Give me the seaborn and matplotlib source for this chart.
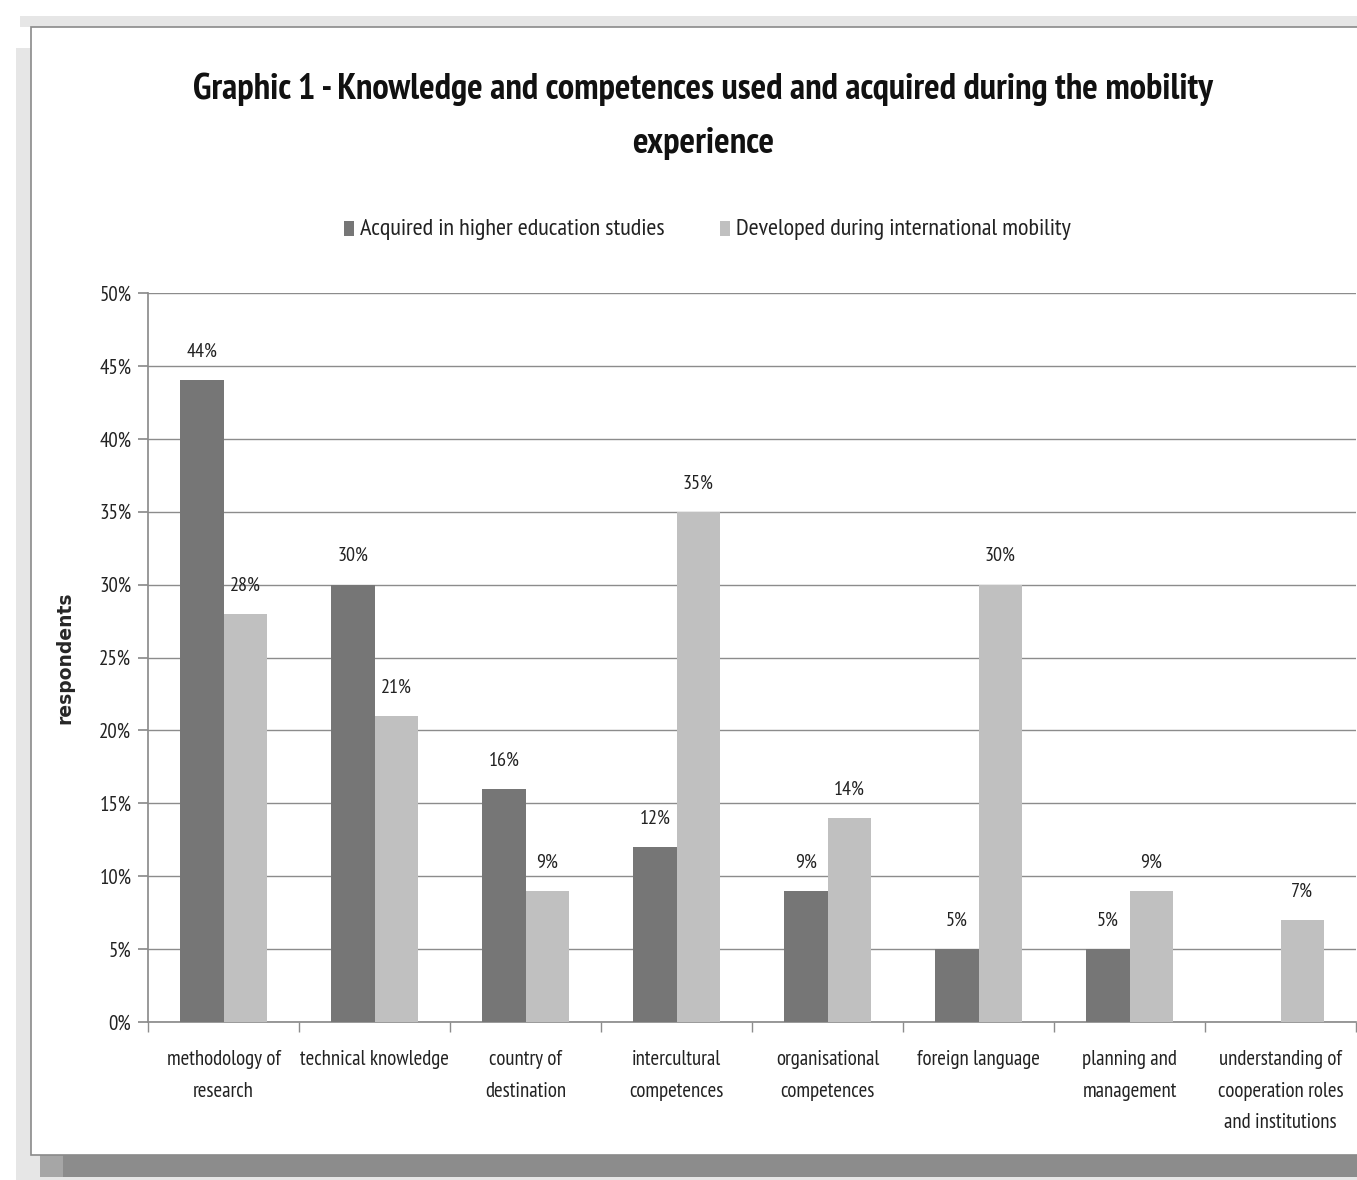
import numpy as np
import pandas as pd
import matplotlib
matplotlib.use("Agg")
import matplotlib.pyplot as plt
import seaborn as sns
from matplotlib import font_manager
from matplotlib.patches import Rectangle
from matplotlib.ticker import FixedLocator, PercentFormatter

categories = ["methodology of\nresearch", "technical knowledge", "country of\ndestination",
              "intercultural\ncompetences", "organisational\ncompetences", "foreign language",
              "planning and\nmanagement", "understanding of\ncooperation roles\nand institutions"]
acquired = [44, 30, 16, 12, 9, 5, 5, np.nan]
developed = [28, 21, 9, 35, 14, 30, 9, 7]
series_names = ["Acquired in higher education studies", "Developed during international mobility"]
yticks = [0, 5, 10, 15, 20, 25, 30, 35, 40, 45, 50]

sns.set_theme(style="white")
names = {f.name for f in font_manager.fontManager.ttflist}
narrow = "DejaVu Sans"
for cand in ["PT Sans Narrow", "Open Sans Condensed", "Roboto Condensed", "Archivo Narrow",
             "Asap Condensed", "Carlito"]:
    if cand in names:
        narrow = cand
        break
plt.rcParams["font.family"] = [narrow, "DejaVu Sans"]

df = pd.DataFrame({
    "category": categories * 2,
    "value": acquired + developed,
    "series": [series_names[0]] * len(categories) + [series_names[1]] * len(categories),
})

W, H = 1357, 1180
fig = plt.figure(figsize=(W / 100, H / 100), dpi=100)
fig.patch.set_facecolor("white")

def px(x0, y0, x1, y1, **kw):
    fig.patches.append(Rectangle((x0 / W, 1 - y1 / H), (x1 - x0) / W, (y1 - y0) / H,
                                 transform=fig.transFigure, figure=fig, **kw))

# screenshot frame
px(0, 0, W, H, facecolor="white", edgecolor="none", zorder=-10)
px(20, 16, W, 27, facecolor="#e6e6e6", edgecolor="none", zorder=-9)
px(16, 48, 31, 1178, facecolor="#e6e6e6", edgecolor="none", zorder=-9)
px(16, 1155, W, 1180, facecolor="#e6e6e6", edgecolor="none", zorder=-9)
px(40, 1155, 63, 1177, facecolor="#a6a6a6", edgecolor="none", zorder=-8)
px(63, 1155, W, 1177, facecolor="#8c8c8c", edgecolor="none", zorder=-8)
px(31, 27, W + 5, 1155, facecolor="white", edgecolor="#8a8a8a", linewidth=1.2, zorder=-7)

ax = fig.add_axes([148 / W, 1 - 1022 / H, (1356 - 148) / W, (1022 - 293) / H])
ax.set_facecolor("none")
palette = {series_names[0]: "#767676", series_names[1]: "#c0c0c0"}
sns.barplot(data=df, x="category", y="value", hue="series", palette=palette,
            width=0.575, gap=0, saturation=1, ax=ax, legend=False, zorder=3, linewidth=0)

ax.set_ylim(0, 50)
ax.set_xlim(-0.5, len(categories) - 0.5)
ax.yaxis.set_major_locator(FixedLocator(yticks))
ax.yaxis.set_major_formatter(PercentFormatter(decimals=0))
ax.grid(axis="y", color="#8c8c8c", linewidth=1.0, zorder=0)
ax.set_axisbelow(True)
for s in ["top", "right"]:
    ax.spines[s].set_visible(False)
ax.spines["left"].set_color("#8c8c8c")
ax.spines["bottom"].set_color("#8c8c8c")
ax.tick_params(axis="y", left=True, length=7, color="#8c8c8c", labelsize=15, pad=5, labelcolor="#222222")
ax.tick_params(axis="x", bottom=False, length=0, labelsize=15, pad=20, labelcolor="#222222")
ax.set_xticks(range(len(categories)))
ax.set_xticklabels(categories, linespacing=1.85)
ax.set_xticks(np.arange(-0.5, len(categories), 1.0), minor=True)
ax.tick_params(axis="x", which="minor", bottom=True, length=7, color="#8c8c8c")
ax.set_xlabel("")
ax.set_ylabel("respondents", fontsize=13.5, fontweight="bold", family="DejaVu Sans", labelpad=18)

for cont in ax.containers:
    labels = ["" if np.isnan(v) else f"{v:.0f}%" for v in cont.datavalues]
    ax.bar_label(cont, labels=labels, padding=14, fontsize=14.5, color="#222222")

title_lines = ["Graphic 1 - Knowledge and competences used and acquired during the mobility", "experience"]
for yy, line in zip([89, 144], title_lines):
    fig.text(703 / W, 1 - yy / H, line, ha="center", va="center", fontsize=26.4,
             fontweight="bold", color="#111111")

# legend
lx = [344, 720]
for i, name in enumerate(series_names):
    px(lx[i], 221, lx[i] + 10, 236, facecolor=list(palette.values())[i], edgecolor="none", zorder=5)
    fig.text((lx[i] + 16) / W, 1 - 230 / H, name, ha="left", va="center", fontsize=17.5, color="#222222")

fig.savefig("out.png", dpi=100)
